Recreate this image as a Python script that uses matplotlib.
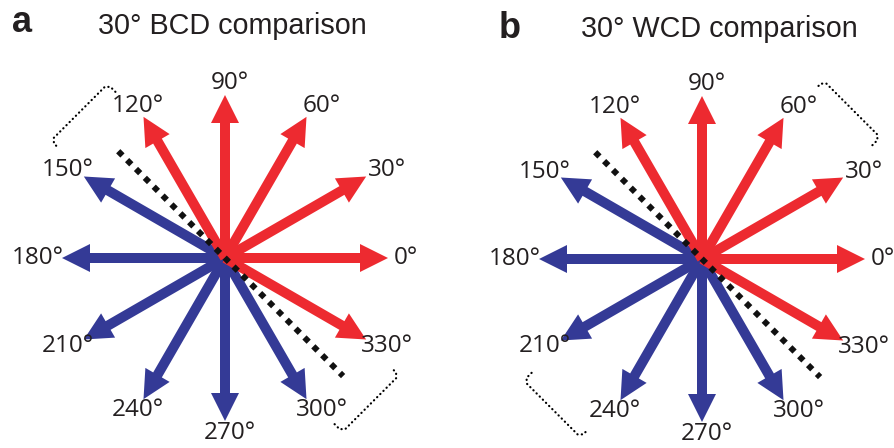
import matplotlib
matplotlib.use("Agg")
import matplotlib.pyplot as plt
import numpy as np
from matplotlib.patches import FancyArrow

# arrow directions (degrees) and which side of the boundary they fall on
arrow_angles = [0, 30, 60, 90, 120, 150, 180, 210, 240, 270, 300, 330]
arrow_groups = ["red", "red", "red", "red", "red", "blue",
                "blue", "blue", "blue", "blue", "blue", "red"]
arrow_labels = [f"{a}°" for a in arrow_angles]

panel_letters = ["a", "b"]
panel_titles = ["30° BCD comparison", "30° WCD comparison"]
boundary_angle = 135
bracket_angles = [[135, 315], [45, 225]]

colors = {"red": "#ED2A30", "blue": "#343A96"}

W, H = 894, 448
centers = [(225, 258), (702, 259)]
r_arrow = 163
label_rx, label_ry = 184, 175


def polar(cx, cy, ang, r):
    t = np.deg2rad(ang)
    return cx + r * np.cos(t), cy - r * np.sin(t)


def bracket(ax, cx, cy, ang, R, h=40, tick=11, cut=4):
    t = np.deg2rad(ang)
    u = np.array([np.cos(t), -np.sin(t)])
    v = np.array([-np.sin(t), -np.cos(t)])
    local = [(-h, R - tick), (-h, R - cut), (-h + cut, R),
             (h - cut, R), (h, R - cut), (h, R - tick)]
    xs = [cx + s * v[0] + r * u[0] for s, r in local]
    ys = [cy + s * v[1] + r * u[1] for s, r in local]
    ax.plot(xs, ys, color="black", lw=1.6,
            linestyle=(0, (0.1, 1.9)), dash_capstyle="round", zorder=4)


fig = plt.figure(figsize=(W / 100, H / 100), dpi=100)
ax = fig.add_axes([0, 0, 1, 1])
ax.set_xlim(0, W)
ax.set_ylim(H, 0)
ax.axis("off")

label_font = "Open Sans"
title_font = "Liberation Sans"
title_pos = [(98, 34), (581, 37)]
letter_pos = [(12, 32), (499, 38)]
bracket_R = [206, 212]

for p, (cx, cy) in enumerate(centers):
    for grp in ["blue", "red"]:
        for ang, g in zip(arrow_angles, arrow_groups):
            if g != grp:
                continue
            tx, ty = polar(cx, cy, ang, r_arrow)
            ax.add_patch(FancyArrow(cx, cy, tx - cx, ty - cy, width=10,
                                    head_width=28, head_length=28,
                                    length_includes_head=True,
                                    color=colors[g], lw=0, zorder=2))
    for ang, lab in zip(arrow_angles, arrow_labels):
        t = np.deg2rad(ang)
        # the degree sign pulls the visual centre right, wide labels less so
        dx = 5 - 8 * np.cos(t) ** 8
        lx = cx + label_rx * np.cos(t) + dx
        ly = cy - label_ry * np.sin(t)
        ax.text(lx, ly, lab, ha="center", va="center", fontsize=17.5,
                family=label_font, color="#231F20", clip_on=False)

    x0, y0 = polar(cx, cy, boundary_angle, 151)
    x1, y1 = polar(cx, cy, boundary_angle + 180, 167)
    ax.plot([x0, x1], [y0, y1], color="#111111", lw=4.3,
            linestyle=(0, (1, 1.1)), dash_capstyle="butt", zorder=5)

    for ba in bracket_angles[p]:
        bracket(ax, cx, cy, ba, bracket_R[p])

    ax.text(*title_pos[p], panel_titles[p], ha="left", va="baseline",
            fontsize=20.7, family=title_font, color="#231F20")
    ax.text(*letter_pos[p], panel_letters[p], ha="left", va="baseline",
            fontsize=26, fontweight="bold", family=title_font, color="#231F20")

fig.savefig("out.png", dpi=100)
